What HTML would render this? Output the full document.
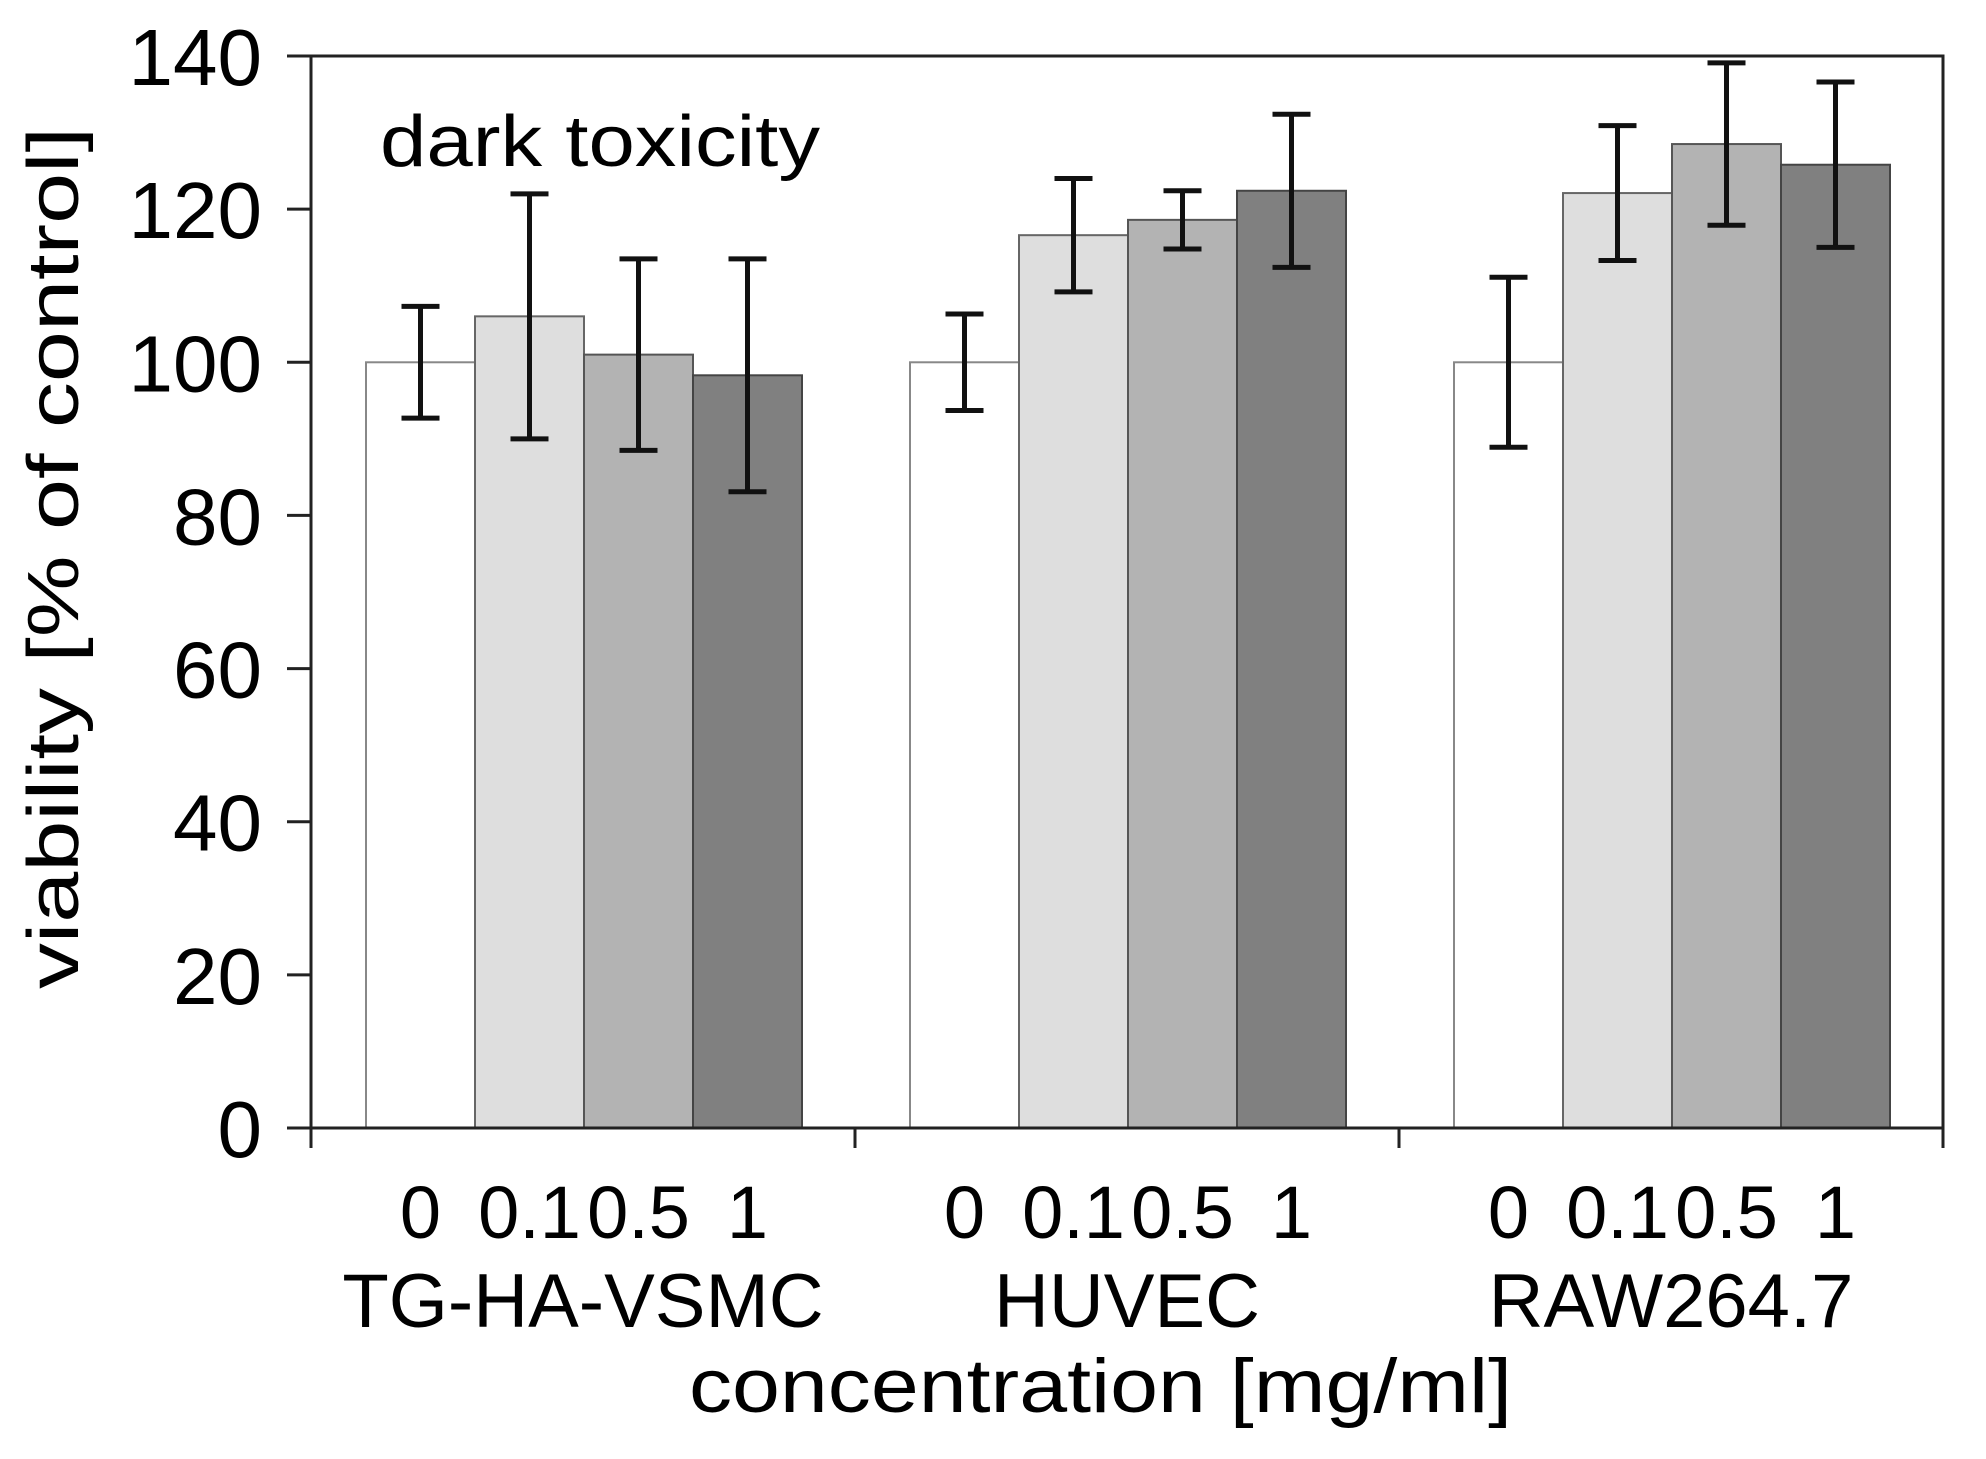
<!DOCTYPE html>
<html><head><meta charset="utf-8"><style>
html,body{margin:0;padding:0;background:#fff}
svg{display:block}
text{font-family:"Liberation Sans",Arial,sans-serif;fill:#000}
</style></head><body>
<svg id="chart" width="1986" height="1459" viewBox="0 0 1986 1459" xmlns="http://www.w3.org/2000/svg">
<g id="bars"></g>
<g id="errs"></g>
<g id="axes"></g>
<text x="380" y="166" font-size="72" textLength="440" lengthAdjust="spacingAndGlyphs">dark toxicity</text>
<text transform="translate(78,558) rotate(-90)" text-anchor="middle" font-size="72" textLength="862" lengthAdjust="spacingAndGlyphs">viability [% of control]</text>
<text x="689" y="1412" font-size="76" textLength="823" lengthAdjust="spacingAndGlyphs">concentration  [mg/ml]</text>
</svg>
<script>
const categories = ["TG-HA-VSMC", "HUVEC", "RAW264.7"];
const concentrations = ["0", "0.1", "0.5", "1"];
const values = [[100, 106, 101, 98.3], [100, 116.6, 118.6, 122.4], [100, 122.1, 128.5, 125.8]];
const errors = [[7.3, 16, 12.5, 15.2], [6.3, 7.4, 3.8, 10], [11.1, 8.8, 10.6, 10.8]];
const yTicks = [0, 20, 40, 60, 80, 100, 120, 140];
const fills = ["#ffffff", "#dedede", "#b3b3b3", "#808080"];
const strokes = ["#888888", "#666666", "#555555", "#444444"];

const NS = "http://www.w3.org/2000/svg";
const X0 = 311, X1 = 1943, Y0 = 1128, Y1 = 56, YMAX = 140;
const catW = (X1 - X0) / categories.length;
const barW = 109, barOff = 55;
function y(v){ return Y0 - (v / YMAX) * (Y0 - Y1); }
function xBar(c, s){ return X0 + c * catW + barOff + s * barW; }
function mk(tag, attrs, parent){
  const e = document.createElementNS(NS, tag);
  for (const k in attrs) e.setAttribute(k, attrs[k]);
  parent.appendChild(e); return e;
}
const gB = document.getElementById('bars'), gE = document.getElementById('errs'), gA = document.getElementById('axes');

categories.forEach((cat, c) => {
  concentrations.forEach((conc, s) => {
    const v = values[c][s], e = errors[c][s];
    const x = xBar(c, s);
    const r = mk('rect', {x: x, y: y(v), width: barW, height: Y0 - y(v), fill: fills[s], stroke: strokes[s], 'stroke-width': 2}, gB);
    
    
    const cx = x + barW / 2;
    const eg = mk('g', {stroke: '#111', 'stroke-width': 5}, gE);
    
    
    mk('line', {x1: cx, x2: cx, y1: y(v + e), y2: y(v - e)}, eg);
    mk('line', {x1: cx - 19, x2: cx + 19, y1: y(v + e), y2: y(v + e)}, eg);
    mk('line', {x1: cx - 19, x2: cx + 19, y1: y(v - e), y2: y(v - e)}, eg);
    const t = mk('text', {x: cx, y: 1238, 'font-size': 74, 'text-anchor': 'middle'}, gA);
    t.textContent = conc;
    
    
  });
  const gl = mk('text', {x: X0 + c * catW + catW / 2, y: 1327, 'font-size': 76, 'text-anchor': 'middle'}, gA);
  gl.textContent = cat;
  
  
});

const fr = mk('path', {d: `M${X0},${Y0} L${X0},${Y1} L${X1},${Y1} L${X1},${Y0}`, fill: 'none', stroke: '#222', 'stroke-width': 3}, gA);


const xa = mk('line', {x1: X0, x2: X1, y1: Y0, y2: Y0, stroke: '#222', 'stroke-width': 3}, gA);


for (let i = 0; i <= categories.length; i++) {
  const tx = X0 + i * catW;
  const tk = mk('line', {x1: tx, x2: tx, y1: Y0, y2: Y0 + 20, stroke: '#222', 'stroke-width': 3}, gA);
  
  
}
yTicks.forEach(v => {
  const tk = mk('line', {x1: X0 - 24, x2: X0, y1: y(v), y2: y(v), stroke: '#222', 'stroke-width': 3}, gA);
  
  
  const t = mk('text', {x: 262, y: y(v) + 29, 'font-size': 80, 'text-anchor': 'end'}, gA);
  t.textContent = v;
  
  
});
</script>
</body></html>
